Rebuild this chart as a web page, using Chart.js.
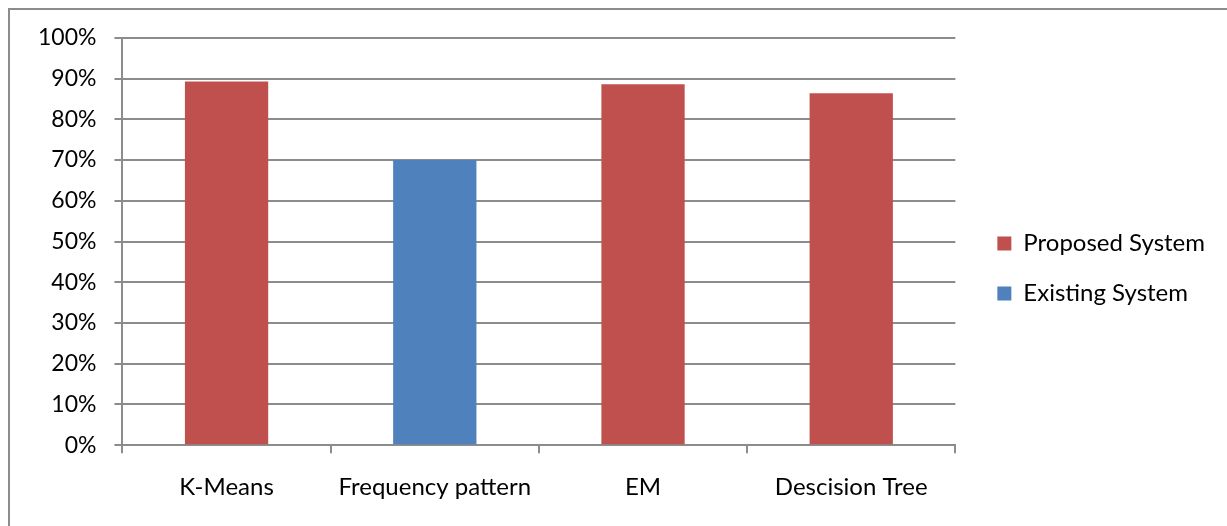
<!DOCTYPE html>
<html>
<head>
<meta charset="utf-8">
<script src="https://cdn.jsdelivr.net/npm/chart.js@4/dist/chart.umd.min.js"></script>
<style>
  html, body { margin: 0; padding: 0; background: #fff; overflow: hidden; }
  #frame {
    position: absolute; left: 8px; top: 8px;
    width: 1230px; height: 530px;
    border: 2px solid #8c8c8c;
    box-sizing: border-box;
  }
  #wrap { position: absolute; left: 0; top: -4px; width: 1219px; height: 520px; }
</style>
</head>
<body>
<div id="frame"><div id="wrap"><canvas id="chart"></canvas></div></div>
<script>
// values
categories = ['K-Means', 'Frequency pattern', 'EM', 'Descision Tree'];
proposed = [89.3, null, 88.6, 86.4];
existing = [null, 70, null, null];
yTicks = [0, 10, 20, 30, 40, 50, 60, 70, 80, 90, 100];

const gridGray = '#8c8c8c';
const fontFam = 'Lato, "Open Sans", sans-serif';
const legendGap = 16;

const data = {
  labels: categories,
  datasets: [{
    label: 'Proposed System',
    backgroundColor: '#C0504D',
    data: proposed,
  }, {
    label: 'Existing System',
    backgroundColor: '#4F81BD',
    data: existing,
  }]
};

// widen the legend box and push its items right, so there is a gap
// between the plot and the legend markers
const legendGapPlugin = {
  id: 'legendGap',
  beforeInit: function(chart) {
    const fit = chart.legend.fit;
    chart.legend.fit = function() {
      fit.call(this);
      this.width += legendGap;
    };
  },
  afterLayout: function(chart) {
    chart.legend.left += legendGap;
  }
};

const options = {
  responsive: true,
  maintainAspectRatio: false,
  animation: false,
  skipNull: true,
  categoryPercentage: 0.4,
  barPercentage: 1.0,
  layout: {
    padding: { left: 10, top: 9, right: 14, bottom: 4 }
  },
  plugins: {
    tooltip: { enabled: false },
    legend: {
      position: 'right',
      labels: {
        boxWidth: 14,
        boxHeight: 14,
        padding: 26,
        color: '#000',
        font: { family: fontFam, size: 24 },
      }
    }
  },
  scales: {
    x: {
      grid: {
        offset: true,
        drawOnChartArea: false,
        drawTicks: true,
        tickLength: 8,
        color: gridGray,
        lineWidth: 2,
      },
      border: { color: gridGray, width: 2 },
      ticks: {
        color: '#000',
        padding: 20,
        maxRotation: 0,
        font: { family: fontFam, size: 24 },
      }
    },
    y: {
      min: 0,
      max: 100,
      afterBuildTicks: function(axis) {
        axis.ticks = yTicks.map(function(v) { return {value: v}; });
      },
      grid: {
        color: gridGray,
        lineWidth: 2,
        tickLength: 8,
      },
      border: { color: gridGray, width: 2 },
      ticks: {
        color: '#000',
        padding: 18,
        font: { family: fontFam, size: 23 },
        callback: function(v) { return v + '%'; }
      }
    }
  }
};

const ctx = document.getElementById('chart').getContext('2d');
myChart = new Chart(ctx, {
  type: 'bar',
  data: data,
  options: options,
  plugins: [legendGapPlugin],
});
</script>
</body>
</html>
